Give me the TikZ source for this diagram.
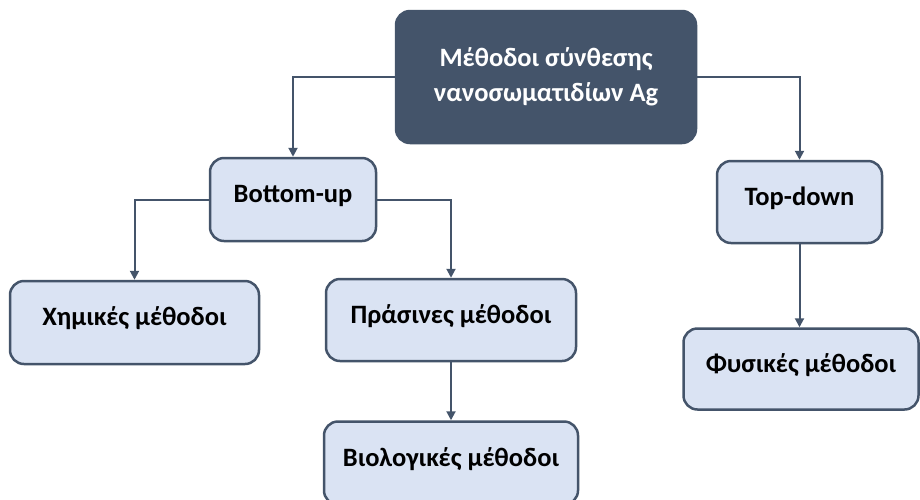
\documentclass[tikz,border=0pt]{standalone}
\usepackage{fontspec}
\setmainfont{Carlito}
\usetikzlibrary{arrows.meta, positioning}
\definecolor{slate}{HTML}{44546A}
\definecolor{paleblue}{HTML}{DAE3F3}

\begin{document}
\begin{tikzpicture}[x=1pt, y=-1pt,
        every node/.style={rectangle, rounded corners=14pt, line width=2.5pt, draw=slate, inner sep=0pt,
            font=\fontsize{26.5}{35}\selectfont\bfseries, align=center, text height=20pt, text depth=14pt},
        method/.style={fill=paleblue, text=black},
        rootbox/.style={fill=slate, text=white, text height=, text depth=},
        link/.style={draw=slate, line width=2pt, -{Triangle[width=9pt,length=9pt]}}]
        \useasboundingbox (0,0) rectangle (920,499);

        \node[rootbox, minimum width=300pt, minimum height=132pt] (synth) at (546,77) {Μέθοδοι σύνθεσης\\νανοσωματιδίων Ag};

        \node[method, minimum width=166pt, minimum height=83pt] (bottomup) at (293,199.5) {Bottom-up};
        \node[method, minimum width=165pt, minimum height=82pt] (topdown) at (799.5,202) {Top-down};

        \node[method, minimum width=249pt, minimum height=83pt] (chem) at (134.5,322.5) {Χημικές μέθοδοι};
        \node[method, minimum width=250pt, minimum height=82pt] (green) at (451,320) {Πράσινες μέθοδοι};
        \node[method, minimum width=254pt, minimum height=83pt] (bio) [below=58pt of green] {Βιολογικές μέθοδοι};
        \node[method, minimum width=235pt, minimum height=81pt, xshift=1.5pt] (phys) [below=83pt of topdown] {Φυσικές μέθοδοι};

        \draw[link] (synth.west) -| (bottomup.north);
        \draw[link] (synth.east) -| (topdown.north);
        \draw[link] (bottomup.west) -| (chem.north);
        \draw[link] (bottomup.east) -| (green.north);
        \draw[link] (green.south) -- (bio.north);
        \draw[link] (topdown.south) -- (topdown.south |- phys.north);
\end{tikzpicture}
\end{document}
